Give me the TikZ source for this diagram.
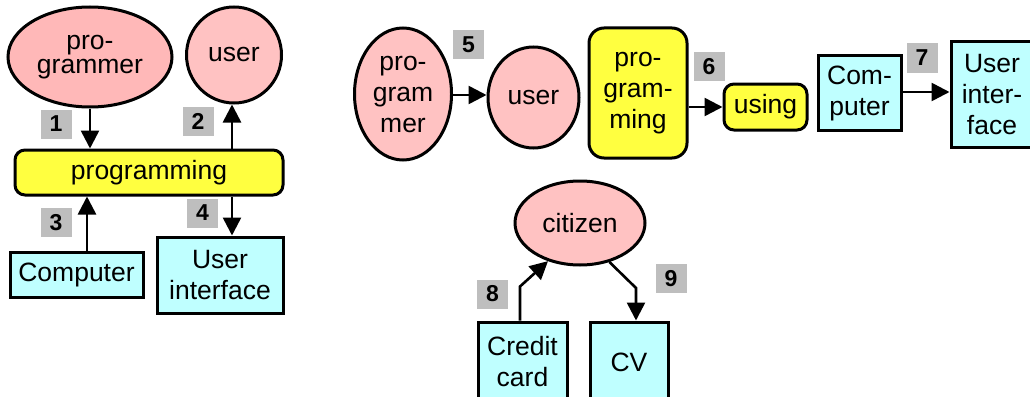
\documentclass[tikz,border=0pt]{standalone}
\usepackage{fontspec}
\setmainfont{Liberation Sans}
\usetikzlibrary{shapes.geometric,arrows.meta,calc}
\definecolor{pinkfill}{HTML}{FFC2C2}
\definecolor{pinkdeep}{HTML}{FFB8B8}
\definecolor{yelfill}{HTML}{FFFF40}
\definecolor{cyanfill}{HTML}{BFFFFF}
\definecolor{tagfill}{HTML}{BEBEBE}
\tikzset{
  base/.style={draw=black, line width=3pt, inner sep=0pt, align=center, font=\fontsize{26.5}{31}\selectfont},
  actor/.style={base, ellipse, fill=pinkfill},
  act/.style={base, rounded corners=10pt, fill=yelfill},
  thing/.style={base, rectangle, fill=cyanfill},
  tag/.style={fill=tagfill, minimum width=31pt, minimum height=29pt, inner sep=0pt, font=\fontsize{23}{23}\selectfont\bfseries},
  arr/.style={line width=2.6pt, -{Triangle[length=18pt,width=18pt]}}
}
\begin{document}
\begin{tikzpicture}[x=1pt,y=-1pt]
\useasboundingbox (0,0) rectangle (1030,396);
% ---- left diagram
\node[actor, fill=pinkdeep, minimum width=164pt, minimum height=100pt, font=\fontsize{26.5}{24}\selectfont] (pmrA) at (90,57) {pro-\\grammer};
\node[actor, minimum width=95pt, minimum height=96pt] (userA) at (234,55) {user};
\node[act, minimum width=268pt, minimum height=45pt] (pgA) at (149,172.5) {programming};
\node[thing, minimum width=133pt, minimum height=45pt] (compA) at (76.5,274.5) {Computer};
\node[thing, minimum width=126pt, minimum height=76pt] (uiA) at (220,275) {User\\interface};
\node[tag] (t1) at (56,124) {1};
\node[tag] (t2) at (198,121.5) {2};
\node[tag] (t3) at (56,222.5) {3};
\node[tag] (t4) at (202.5,213) {4};
\draw[arr] (pmrA.south) -- (pmrA.south |- pgA.north);
\coordinate (a2) at (232,0);
\draw[arr] (a2 |- pgA.north) -- (a2 |- userA.south);
\coordinate (a3) at ([xshift=10.5pt]compA.north);
\draw[arr] (a3) -- (a3 |- pgA.south);
\draw[arr] (a2 |- pgA.south) -- (a2 |- uiA.north);
% ---- row of pairs
\node[actor, minimum width=97pt, minimum height=132pt] (pmrB) at (403,94) {pro-\\gram\\mer};
\node[actor, minimum width=91pt, minimum height=101pt] (userB) at (533.5,97.5) {user};
\node[act, rounded corners=15pt, minimum width=98pt, minimum height=130pt] (pgB) at (638,93) {pro-\\gram-\\ming};
\node[act, minimum width=83pt, minimum height=46pt] (usingB) at (765.5,107) {using};
\node[thing, minimum width=83pt, minimum height=74pt] (compB) at (859.5,93) {Com-\\puter};
\node[thing, minimum width=82pt, minimum height=105pt] (uiB) at (992,94.5) {User\\inter-\\face};
\node[tag] (t5) at (468.5,44.5) {5};
\node[tag] (t6) at (709,66.5) {6};
\node[tag] (t7) at (922,58) {7};
\draw[arr] (pmrB.east |- 0,95) -- (userB.west |- 0,95);
\draw[arr] (pgB.east |- usingB.west) -- (usingB.west);
\draw[arr] (compB.east |- 0,92) -- (uiB.west |- 0,92);
% ---- citizen
\node[actor, minimum width=130pt, minimum height=84pt] (cit) at (580,223) {citizen};
\node[thing, minimum width=89pt, minimum height=80pt] (cc) at (522.5,362) {Credit\\card};
\node[thing, minimum width=78pt, minimum height=80pt] (cv) at (629,362) {CV};
\node[tag] (t8) at (492.5,294) {8};
\node[tag] (t9) at (671,278.5) {9};
\coordinate (c8) at ([xshift=-2.5pt]cc.north);
\draw[arr] (c8) -- ++(0,-34) -- (cit.230);
\coordinate (c9) at ([xshift=7pt]cv.north);
\draw[arr] (cit.307) -- (c9 |- 0,288) -- (c9);
\end{tikzpicture}
\end{document}
